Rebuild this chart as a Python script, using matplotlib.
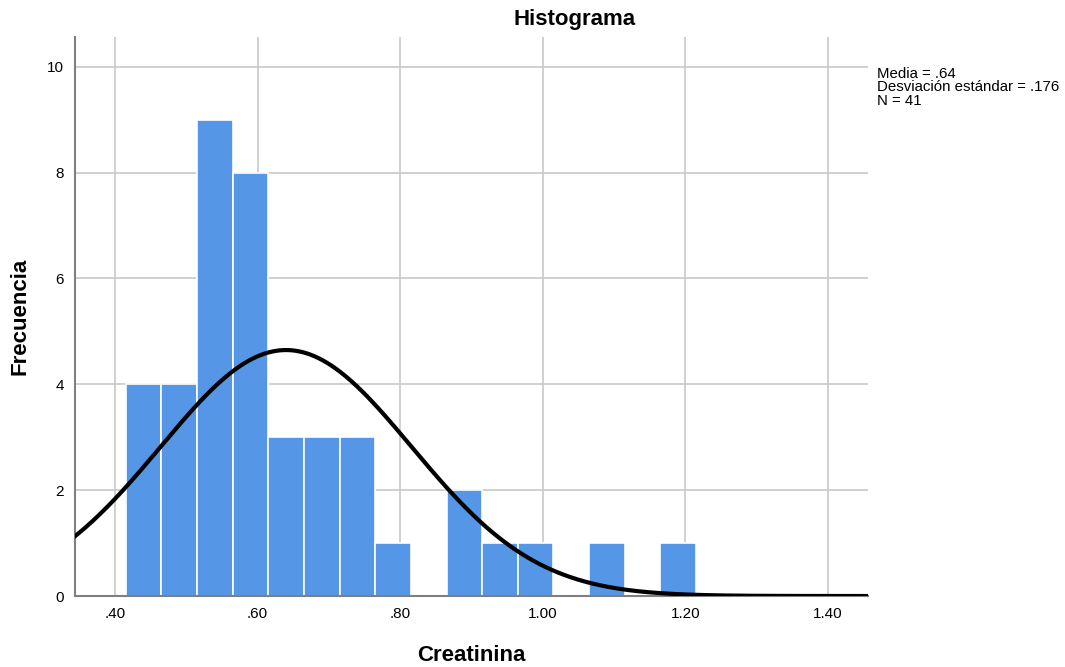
import numpy as np
import matplotlib.pyplot as plt

plt.rcParams['font.family'] = ['Liberation Sans', 'DejaVu Sans']

# Creatinina histogram, bin width .05 starting at .415
bin_start = 0.415
bin_width = 0.05
counts = [4, 4, 9, 8, 3, 3, 3, 1, 0, 2, 1, 1, 0, 1, 0, 1]
media = 0.64
desv = 0.176
n = 41

fig = plt.figure(figsize=(10.65, 6.67), dpi=100)
ax = fig.add_axes([0.0704, 0.1064, 0.7446, 0.8381])

lefts = bin_start + bin_width * np.arange(len(counts))
ax.bar(lefts, counts, width=bin_width, align='edge', color='#5596e6',
       edgecolor='white', linewidth=1.2, zorder=2)

# Normal curve scaled to counts
xs = np.linspace(0.344, 1.456, 400)
ys = n * bin_width / (desv * np.sqrt(2 * np.pi)) * np.exp(-0.5 * ((xs - media) / desv) ** 2)
ax.plot(xs, ys, color='black', linewidth=3, zorder=3)

ax.set_xlim(0.344, 1.456)
ax.set_ylim(0, 10.56)
ax.set_xticks([0.4, 0.6, 0.8, 1.0, 1.2, 1.4])
ax.set_xticklabels(['.40', '.60', '.80', '1.00', '1.20', '1.40'])
ax.set_yticks([0, 2, 4, 6, 8, 10])
ax.grid(True, color='#c8c8c8', linewidth=1.2, zorder=0)
ax.set_axisbelow(True)
ax.tick_params(length=0, labelsize=11, pad=8)
for s in ['top', 'right']:
    ax.spines[s].set_visible(False)
for s in ['left', 'bottom']:
    ax.spines[s].set_color('#7f7f7f')
    ax.spines[s].set_linewidth(1.5)

fig.text(575 / 1065, 1 - 20 / 667, 'Histograma', fontsize=16, fontweight='bold',
         ha='center', va='center')
ax.set_xlabel('Creatinina', fontsize=16, fontweight='bold')
ax.set_ylabel('Frecuencia', fontsize=16, fontweight='bold')
ax.xaxis.set_label_coords(0.5, -0.1055)
ax.yaxis.set_label_coords(-0.0693, 0.5)
ax.xaxis.label.set_va('center')
ax.yaxis.label.set_va('center')

fig.text(0.8235, 1 - 67 / 667, 'Media = .64\nDesviación estándar = .176\nN = 41',
         fontsize=10.8, va='top', ha='left', linespacing=0.95)

fig.savefig('out.png', dpi=100)
